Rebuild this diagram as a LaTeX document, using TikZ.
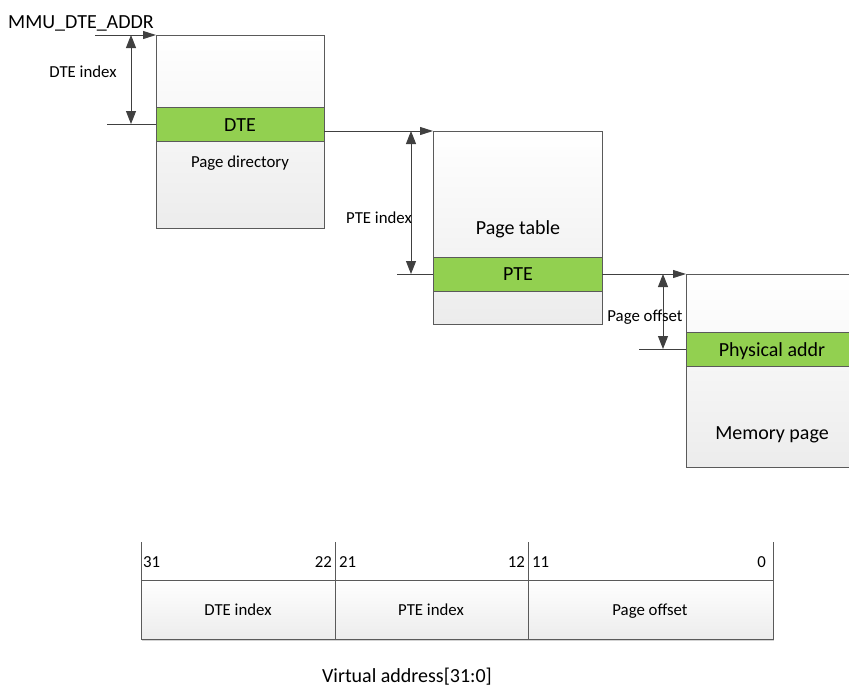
\documentclass[tikz,border=0pt]{standalone}
\usepackage{fontspec}
\setmainfont{Carlito}
\usetikzlibrary{arrows.meta,shadows}
\definecolor{edge}{HTML}{5A5A5A}
\definecolor{ink}{HTML}{404040}
\definecolor{leaf}{HTML}{92D050}
\definecolor{paper}{HTML}{ECECEC}

\begin{document}
\begin{tikzpicture}[x=1pt,y=-1pt,
  big/.style={font=\fontsize{20}{24}\selectfont, inner sep=0pt, anchor=base},
  small/.style={font=\fontsize{16.8}{20}\selectfont, inner sep=0pt, anchor=base},
  table/.style 2 args={draw=edge, line width=0.9pt, top color=white, bottom color=paper,
    inner sep=0pt, outer sep=0pt, anchor=north west, minimum width=#1pt, minimum height=#2pt},
  band/.style={draw=edge, line width=0.9pt, fill=leaf, inner sep=0pt, outer sep=0pt,
    anchor=north west, minimum width=#1pt, minimum height=34pt},
  cell/.style={draw=edge, line width=0.8pt, top color=white, bottom color=paper,
    inner sep=0pt, outer sep=0pt, anchor=north west, minimum width=#1pt, minimum height=59pt,
    drop shadow={opacity=0.35, shadow xshift=1pt, shadow yshift=-1.5pt}},
  link/.style={draw=ink, line width=1pt, -{Triangle[length=13pt,width=8pt]}},
  span/.style={draw=ink, line width=1pt, {Triangle[length=13pt,width=10pt]}-{Triangle[length=13pt,width=10pt]}},
  tick/.style={draw=ink, line width=0.9pt}]

\useasboundingbox (0,0) rectangle (849,686);
\clip (0,0) rectangle (849,686);

% ---------- page directory ----------
\node[table={168}{193}] (pd) at (156,35) {};
\node[band=168] (dte) at (156,107) {};
\node[big] (dtel) at (240,131) {DTE};
\node[small] (pdl) at (240,167) {Page directory};

\node[big, anchor=base west] (base) at (8,28) {MMU\_DTE\_ADDR};
\coordinate (basestart) at (95,35);
\draw[link] (basestart) -- (pd.north west);

\coordinate (dtop) at (131,35);
\coordinate (dbot) at (131,124);
\draw[span] (dtop) -- (dbot);
\coordinate (dtick) at (107,124);
\draw[tick] (dtick) -- (dte.west);
\node[small] (dtei) at (83,77) {DTE index};

% ---------- page table ----------
\node[table={169}{193}] (pt) at (433,131) {};
\node[band=169] (pte) at (433,257) {};
\node[big] (ptel) at (518,280) {PTE};
\node[big] (ptl) at (518,234) {Page table};

\draw[link] (pd.east |- pt.north west) -- (pt.north west);

\coordinate (ptop) at (411,131);
\coordinate (pbot) at (411,274);
\draw[span] (ptop) -- (pbot);
\coordinate (ptick) at (397,274);
\draw[tick] (ptick) -- (pte.west);
\node[small] (ptei) at (379,223) {PTE index};

% ---------- memory page ----------
\node[table={172}{193}] (mp) at (686,274) {};
\node[band=172] (pa) at (686,332) {};
\node[big] (pal) at (772,356) {Physical addr};
\node[big] (mpl) at (772,439) {Memory page};

\draw[link] (pte.east) -- (mp.north west);

\coordinate (otop) at (663,274);
\coordinate (obot) at (663,349);
\draw[span] (otop) -- (obot);
\coordinate (otick) at (639,349);
\draw[tick] (otick) -- (pa.west);
\node[small] (offl) at (645,321) {Page offset};

% ---------- virtual address layout ----------
\node[cell=194] (f1) at (141,580) {};
\node[cell=193] (f2) at (335,580) {};
\node[cell=245] (f3) at (528,580) {};
\node[small] (f1l) at (238,615) {DTE index};
\node[small] (f2l) at (431,615) {PTE index};
\node[small] (f3l) at (650,615) {Page offset};

\coordinate (t1) at (141,542);
\coordinate (t2) at (335,542);
\coordinate (t3) at (528,542);
\coordinate (t4) at (773,542);
\draw[tick, draw=edge, line width=0.8pt] (t1) -- (f1.north west);
\draw[tick, draw=edge, line width=0.8pt] (t2) -- (f2.north west);
\draw[tick, draw=edge, line width=0.8pt] (t3) -- (f3.north west);
\draw[tick, draw=edge, line width=0.8pt] (t4) -- (f3.north east);

\node[small, anchor=base west] (b31) at (143,567) {31};
\node[small, anchor=base east] (b22) at (332,567) {22};
\node[small, anchor=base west] (b21) at (339,567) {21};
\node[small, anchor=base east] (b12) at (525,567) {12};
\node[small, anchor=base west] (b11) at (532,567) {11};
\node[small, anchor=base east] (b0)  at (766,567) {0};

\node[big] (va) at (407,682) {Virtual address[31:0]};
\end{tikzpicture}
\end{document}
